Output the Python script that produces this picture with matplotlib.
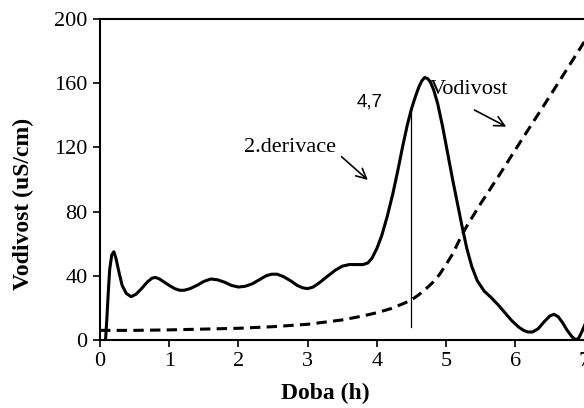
import matplotlib.pyplot as plt

# 2. derivace (solid curve)
deriv_x = [0.08, 0.10, 0.12, 0.14, 0.17, 0.20, 0.23, 0.27, 0.32, 0.38, 0.45, 0.52,
           0.60, 0.68, 0.75, 0.80, 0.86, 0.93, 1.00, 1.08, 1.15, 1.22, 1.30, 1.40,
           1.50, 1.60, 1.70, 1.80, 1.90, 2.00, 2.10, 2.20, 2.30, 2.40, 2.48, 2.56,
           2.65, 2.75, 2.85, 2.93, 3.00, 3.08, 3.18, 3.28, 3.40, 3.50, 3.60, 3.70,
           3.80, 3.87, 3.93, 4.00, 4.07, 4.15, 4.23, 4.30, 4.37, 4.44, 4.50, 4.56,
           4.61, 4.65, 4.69, 4.73, 4.77, 4.82, 4.88, 4.95, 5.02, 5.09, 5.16, 5.23,
           5.30, 5.37, 5.45, 5.55, 5.65, 5.75, 5.85, 5.95, 6.05, 6.12, 6.18, 6.25,
           6.33, 6.42, 6.50, 6.56, 6.62, 6.68, 6.75, 6.82, 6.88, 6.92, 6.96, 7.00]
deriv_y = [0, 14, 30, 44, 53, 55, 51, 43, 34, 29, 27, 28.5,
           32, 36, 38.5, 39, 38, 36, 34, 32, 31, 31, 32, 34,
           36.5, 38, 37.5, 36, 34, 33, 33.5, 35, 37.5, 40, 41, 41,
           39.5, 37, 34, 32.5, 32, 33, 36, 39.5, 43.5, 46, 47, 47,
           47, 48, 51, 57, 65, 77, 91, 105, 120, 134, 144, 152,
           158, 161.5, 163.5, 163, 161, 156, 147, 133, 117, 101, 86, 71,
           57, 46, 37, 30.5, 26.5, 22, 17, 12, 8, 6, 5, 5,
           7, 11.5, 15, 16, 14.5, 11, 6, 2, 0, 1.5, 5, 9]

# Vodivost (dashed curve)
vod_x = [0.0, 0.5, 1.0, 1.5, 2.0, 2.5, 3.0, 3.5, 3.8, 4.0, 4.2, 4.4, 4.5, 4.6,
         4.7, 4.8, 4.9, 5.0, 5.1, 5.2, 5.3, 5.4, 5.5, 5.75, 6.0, 6.5, 7.0]
vod_y = [6, 6, 6.3, 6.8, 7.3, 8.3, 9.8, 12.5, 15, 17, 19.5, 23, 25, 28,
         31.5, 35.5, 40.5, 47, 54, 63, 71, 78, 85, 101.5, 118.5, 152, 186]

# marker line at the inflection time
mark_x = 4.5
mark_y = [8, 144]

x_ticks = [0, 1, 2, 3, 4, 5, 6, 7]
y_ticks = [0, 40, 80, 120, 160, 200]

plt.rcParams['font.family'] = 'Liberation Serif'
plt.rcParams['lines.scale_dashes'] = False

fig = plt.figure(figsize=(5.84, 4.08), dpi=100)
ax = fig.add_axes([100 / 584, 68 / 408, 484.5 / 584, 321 / 408])

ax.plot(deriv_x, deriv_y, color='black', lw=2.2, solid_joinstyle='round')
ax.plot(vod_x, vod_y, color='black', lw=2.2, dashes=(7.5, 4.5))
ax.plot([mark_x, mark_x], mark_y, color='black', lw=0.9)

ax.set_xlim(0, 7)
ax.set_ylim(0, 200)
ax.set_xticks(x_ticks)
ax.set_yticks(y_ticks)
ax.tick_params(labelsize=16, length=5, width=1.2, direction='out', pad=4)

for s in ax.spines.values():
    s.set_linewidth(1.5)
ax.spines['right'].set_linewidth(1.0)
ax.spines['right'].set_color('#d0d0d0')

ax.set_xlabel('Doba (h)', fontsize=17, fontweight='bold')
ax.set_ylabel('Vodivost (uS/cm)', fontsize=17, fontweight='bold')
ax.xaxis.set_label_coords(0.466, -0.168)
ax.xaxis.label.set_verticalalignment('center')
ax.yaxis.set_label_coords(-0.159, 0.424)
ax.yaxis.label.set_verticalalignment('center')

ax.text(3.9, 148, '4,7', fontsize=13.5, family='Liberation Sans', ha='center', va='center')
ax.text(2.74, 120, '2.derivace', fontsize=16, ha='center', va='center')
ax.text(5.33, 155.8, 'Vodivost', fontsize=16, ha='center', va='center')

arrow = dict(arrowstyle='->', color='black', lw=1.2, shrinkA=0, shrinkB=0,
             mutation_scale=18)
ax.annotate('', xy=(3.87, 99.7), xytext=(3.49, 114.2), arrowprops=arrow)
ax.annotate('', xy=(5.87, 132.9), xytext=(5.41, 143.3), arrowprops=arrow)

fig.savefig('out.png', dpi=100)
